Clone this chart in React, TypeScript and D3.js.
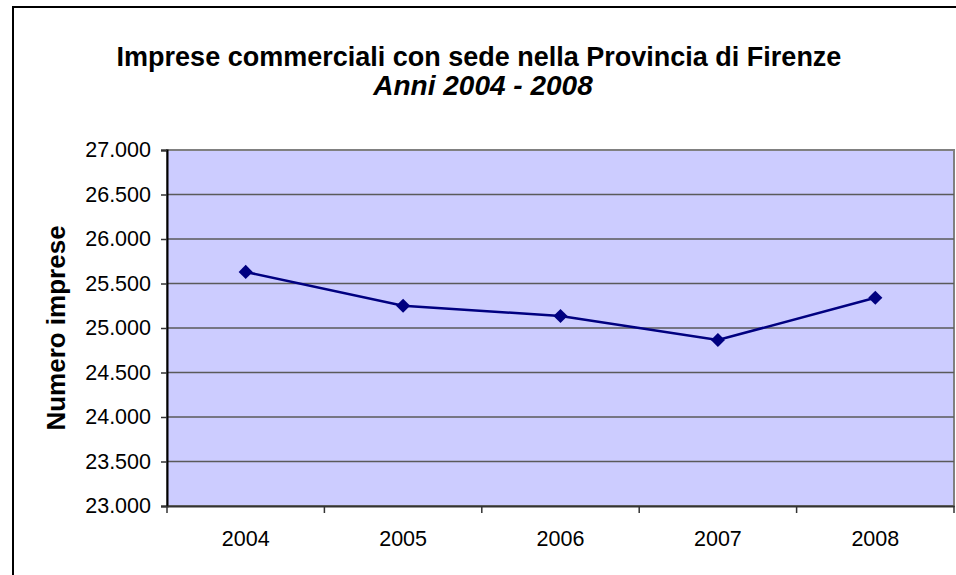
import React, { useEffect, useRef } from 'react';
import * as d3 from 'd3';

const years = ['2004', '2005', '2006', '2007', '2008'];
const imprese = [25630, 25250, 25135, 24865, 25340];
const yTicks = [23000, 23500, 24000, 24500, 25000, 25500, 26000, 26500, 27000];

const App = () => {
  const chartRef = useRef<SVGSVGElement>(null);

  useEffect(() => {
    const svg = d3.select(chartRef.current);
    svg.selectAll('*').remove();

    const font = 'Arial, "Liberation Sans", sans-serif';
    const left = 167, right = 954, top = 150, bottom = 506;

    // outer frame
    svg.append('rect')
      .attr('x', 13).attr('y', 7)
      .attr('width', 1000).attr('height', 700)
      .attr('fill', 'white')
      .attr('stroke', '#000').attr('stroke-width', 2);

    // title
    svg.append('text')
      .attr('x', 479).attr('y', 66)
      .attr('text-anchor', 'middle')
      .style('font-family', font).style('font-size', '27px').style('font-weight', 'bold')
      .text('Imprese commerciali con sede nella Provincia di Firenze');
    svg.append('text')
      .attr('x', 483).attr('y', 95)
      .attr('text-anchor', 'middle')
      .style('font-family', font).style('font-size', '28px').style('font-weight', 'bold')
      .style('font-style', 'italic')
      .text('Anni 2004 - 2008');

    const x = d3.scaleBand().domain(years).range([left, right]);
    const y = d3.scaleLinear().domain([23000, 27000]).range([bottom, top]);

    // plot background
    svg.append('rect')
      .attr('x', left).attr('y', top)
      .attr('width', right - left).attr('height', bottom - top)
      .attr('fill', '#CCCCFF')
      .attr('stroke', '#808080').attr('stroke-width', 2);

    // gridlines
    svg.append('g')
      .selectAll('line')
      .data(yTicks.slice(1, -1))
      .enter()
      .append('line')
      .attr('x1', left).attr('x2', right)
      .attr('y1', d => y(d)).attr('y2', d => y(d))
      .attr('stroke', '#5a5a5a').attr('stroke-width', 1.5);

    // Y axis
    const yAxis = svg.append('g')
      .attr('transform', `translate(${left},0)`)
      .call(d3.axisLeft(y).tickValues(yTicks).tickSize(6).tickPadding(10)
        .tickFormat(d => d3.format(',')(d as number).replace(/,/g, '.')));
    yAxis.select('.domain').attr('stroke', '#000').attr('stroke-width', 2);
    yAxis.selectAll('.tick line').attr('stroke', '#333').attr('stroke-width', 1.5);
    yAxis.selectAll('text')
      .style('font-family', font).style('font-size', '21.5px').attr('fill', '#000');

    // X axis
    const xAxis = svg.append('g')
      .attr('transform', `translate(0,${bottom})`)
      .call(d3.axisBottom(x).tickSize(0).tickPadding(25));
    xAxis.select('.domain').attr('stroke', '#333').attr('stroke-width', 2);
    xAxis.selectAll('text')
      .style('font-family', font).style('font-size', '21.5px').attr('fill', '#000');
    xAxis.append('g')
      .selectAll('line')
      .data([...years.map(d => x(d) as number), right])
      .enter()
      .append('line')
      .attr('x1', d => d).attr('x2', d => d)
      .attr('y1', 0).attr('y2', 7)
      .attr('stroke', '#333').attr('stroke-width', 1.5);

    // Y axis label
    svg.append('text')
      .attr('transform', 'rotate(-90)')
      .attr('x', -(top + bottom) / 2)
      .attr('y', 65)
      .attr('text-anchor', 'middle')
      .style('font-family', font).style('font-size', '26px').style('font-weight', 'bold')
      .text('Numero imprese');

    const cx = (d: string) => (x(d) as number) + x.bandwidth() / 2;

    // line
    const line = d3.line<number>()
      .x((d, i) => cx(years[i]))
      .y(d => y(d));
    svg.append('path')
      .datum(imprese)
      .attr('d', line)
      .attr('fill', 'none')
      .attr('stroke', '#000080')
      .attr('stroke-width', 2.5);

    // markers
    svg.selectAll('.marker')
      .data(imprese)
      .enter()
      .append('path')
      .attr('class', 'marker')
      .attr('d', d3.symbol(d3.symbolSquare, 100))
      .attr('transform', (d, i) => `translate(${cx(years[i])},${y(d)}) rotate(45)`)
      .attr('fill', '#000080');
  }, []);

  return (
    <svg ref={chartRef} width={956} height={575}
      style={{ position: 'absolute', left: 0, top: 0, background: 'white' }} />
  );
};

export default App;
